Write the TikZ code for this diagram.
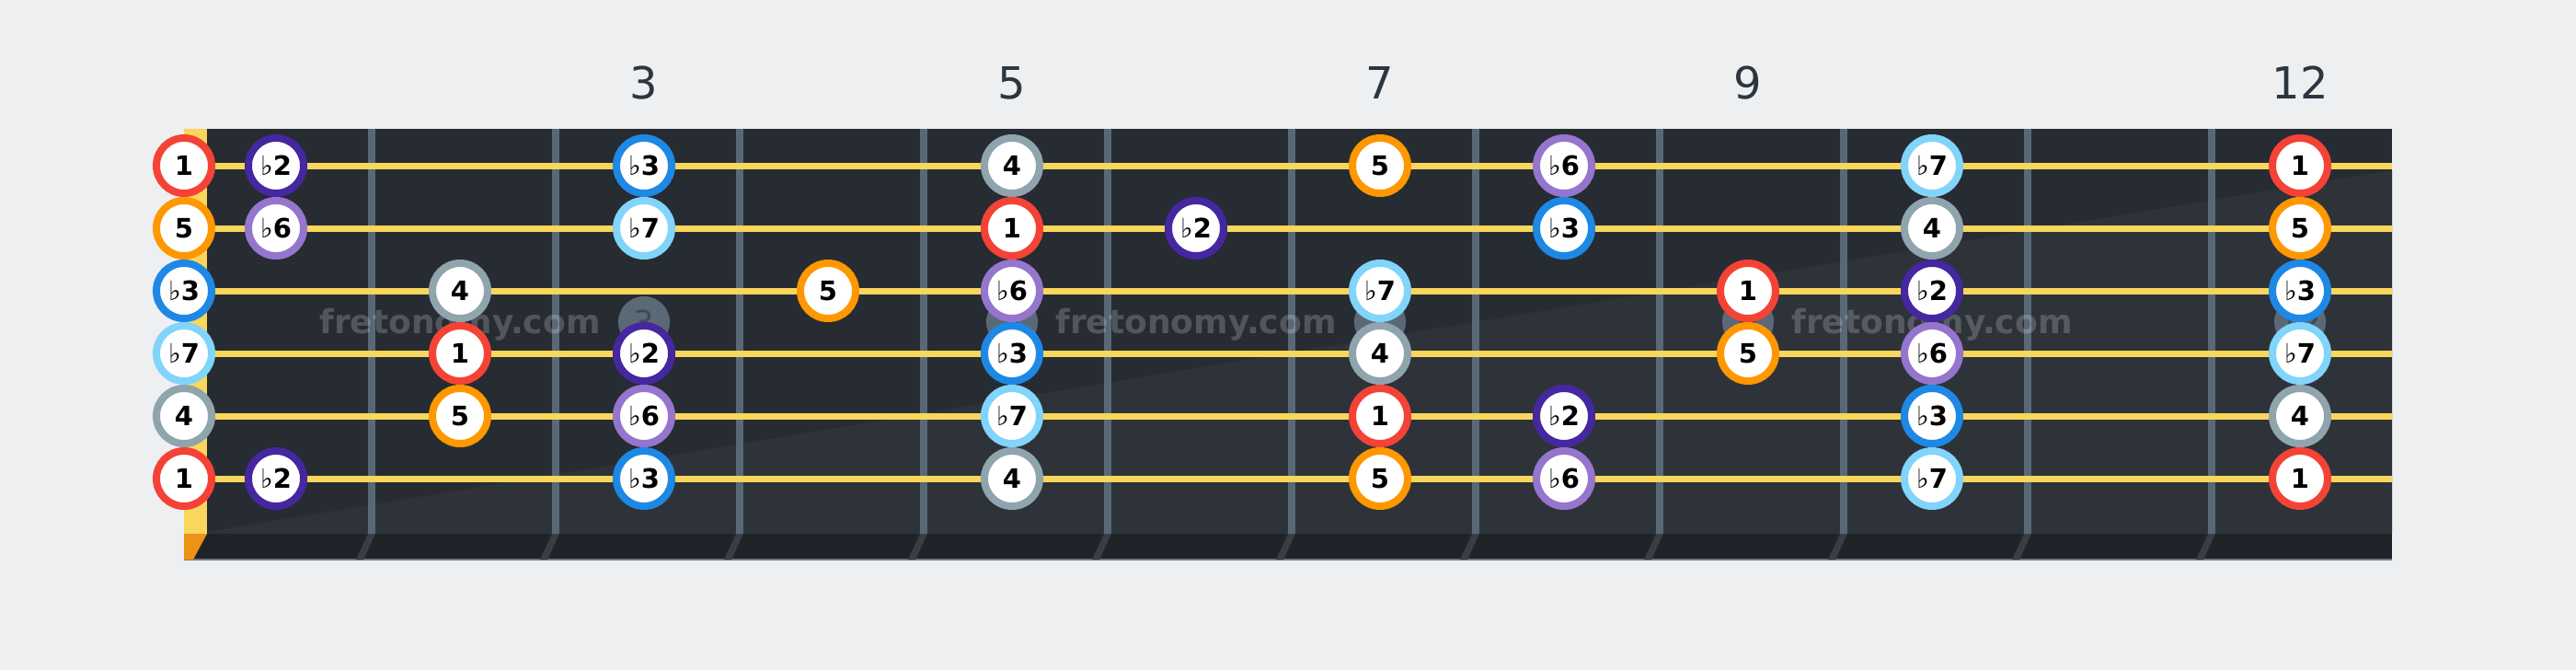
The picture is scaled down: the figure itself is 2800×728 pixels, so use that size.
\documentclass[tikz,border=0pt]{standalone}
\usepackage{fontspec}
\setmainfont{DejaVu Sans}
\newcommand\flt{{\mdseries ♭}}
\definecolor{bgc}{HTML}{EEEFF1}
\definecolor{boardc}{HTML}{272C33}
\definecolor{boardlc}{HTML}{2E333A}
\definecolor{stripc}{HTML}{1F2328}
\definecolor{edgec}{HTML}{6B7785}
\definecolor{nutc}{HTML}{F9D65C}
\definecolor{nutoc}{HTML}{EE9216}
\definecolor{fretc}{HTML}{596877}
\definecolor{slantc}{HTML}{3A3E44}
\definecolor{stringc}{HTML}{F9D65C}
\definecolor{markc}{HTML}{5B6977}
\definecolor{marktc}{HTML}{3E4A56}
\definecolor{labc}{HTML}{2B3640}
\definecolor{cI}{HTML}{F44336}
\definecolor{cbII}{HTML}{4527A0}
\definecolor{cbIII}{HTML}{1E88E5}
\definecolor{cIV}{HTML}{90A4AE}
\definecolor{cV}{HTML}{FF9800}
\definecolor{cbVI}{HTML}{9575CD}
\definecolor{cbVII}{HTML}{81D4FA}
\begin{document}
\begin{tikzpicture}[x=1pt,y=-1pt,
  note/.style={circle,minimum size=60pt,inner sep=0pt,line width=8pt,fill=white,
    draw=#1,text=black,font=\fontsize{29}{29}\selectfont\bfseries,
    text height=21pt,text depth=0pt},
  marker/.style={circle,minimum size=56pt,inner sep=0pt,fill=markc,text=marktc,
    font=\fontsize{36}{36}\selectfont,text height=26pt,text depth=0pt},
  fretnum/.style={anchor=base,inner sep=0pt,text=labc,font=\fontsize{48}{48}\selectfont},
  wmark/.style={anchor=base,inner sep=0pt,text=white,text opacity=0.2,
    font=\fontsize{36}{36}\selectfont\bfseries}
]
\useasboundingbox (0,0) rectangle (2800,728);
\fill[bgc] (0,0) rectangle (2800,728);
% board
\fill[boardc] (200,140) rectangle (2600,580);
\fill[boardlc] (225,578) -- (2600,185) -- (2600,580) -- (225,580) -- cycle;
\fill[stripc] (200,580) rectangle (2600,608);
\fill[edgec] (200,607) rectangle (2600,609);
% nut
\fill[nutc] (200,140) rectangle (225,580);
\fill[nutoc] (200,580) -- (225,580) -- (210,608) -- (200,608) -- cycle;
% frets
\foreach \k in {1,...,11}{
  \pgfmathsetmacro\fx{204+200*\k}
  \fill[fretc] (\fx-4,140) rectangle (\fx+4,580);
  \fill[slantc] (\fx-4,580) -- (\fx+4,580) -- (\fx-9,608) -- (\fx-17,608) -- cycle;
}
% fret position markers
\foreach \f in {3,5,7,9,12}{
  \node[marker] (m\f) at (100+200*\f,350) {\f};
}
% watermark
\node[wmark] (w1) at (500,362) {fretonomy.com};
\node[wmark] (w2) at (1300,362) {fretonomy.com};
\node[wmark] (w3) at (2100,362) {fretonomy.com};
% strings
\foreach \s in {1,...,6}{
  \fill[stringc] (200,176.5+68*\s-68) rectangle (2600,183.5+68*\s-68);
}
% fret numbers
\node[fretnum] (l3) at (700,107) {3};
\node[fretnum] (l5) at (1100,107) {5};
\node[fretnum] (l7) at (1500,107) {7};
\node[fretnum] (l9) at (1900,107) {9};
\node[fretnum] (l12) at (2500,107) {12};
% notes
\foreach \s/\f/\c/\t in {
  1/0/cI/1, 1/1/cbII/{\flt2}, 1/3/cbIII/{\flt3}, 1/5/cIV/4, 1/7/cV/5, 1/8/cbVI/{\flt6}, 1/10/cbVII/{\flt7}, 1/12/cI/1,
  2/0/cV/5, 2/1/cbVI/{\flt6}, 2/3/cbVII/{\flt7}, 2/5/cI/1, 2/6/cbII/{\flt2}, 2/8/cbIII/{\flt3}, 2/10/cIV/4, 2/12/cV/5,
  3/0/cbIII/{\flt3}, 3/2/cIV/4, 3/4/cV/5, 3/5/cbVI/{\flt6}, 3/7/cbVII/{\flt7}, 3/9/cI/1, 3/10/cbII/{\flt2}, 3/12/cbIII/{\flt3},
  4/0/cbVII/{\flt7}, 4/2/cI/1, 4/3/cbII/{\flt2}, 4/5/cbIII/{\flt3}, 4/7/cIV/4, 4/9/cV/5, 4/10/cbVI/{\flt6}, 4/12/cbVII/{\flt7},
  5/0/cIV/4, 5/2/cV/5, 5/3/cbVI/{\flt6}, 5/5/cbVII/{\flt7}, 5/7/cI/1, 5/8/cbII/{\flt2}, 5/10/cbIII/{\flt3}, 5/12/cIV/4,
  6/0/cI/1, 6/1/cbII/{\flt2}, 6/3/cbIII/{\flt3}, 6/5/cIV/4, 6/7/cV/5, 6/8/cbVI/{\flt6}, 6/10/cbVII/{\flt7}, 6/12/cI/1}{
  \pgfmathsetmacro\nx{\f==0 ? 200 : 100+200*\f}
  \pgfmathsetmacro\ny{180+68*(\s-1)}
  \node[note=\c] (n\s-\f) at (\nx,\ny) {\t};
}
\end{tikzpicture}
\end{document}
